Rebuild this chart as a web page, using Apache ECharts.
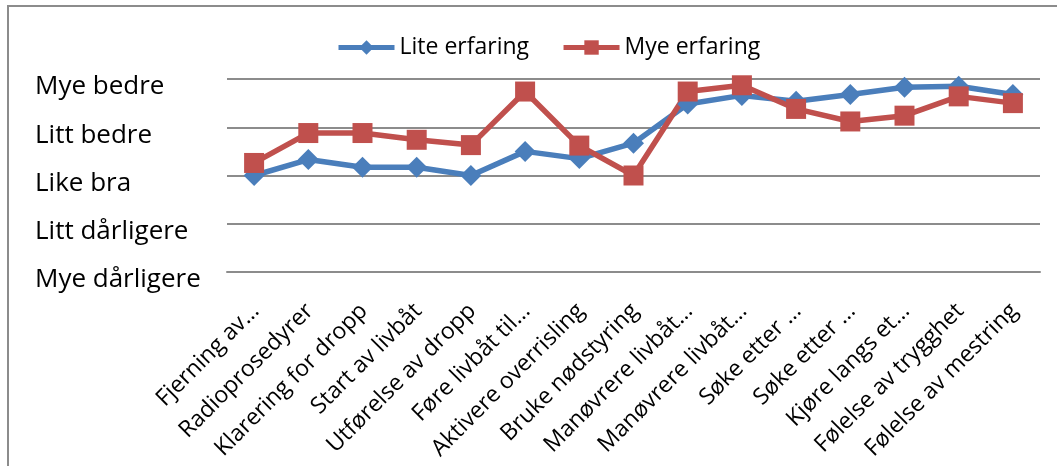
<!DOCTYPE html>
<html>
<head>
<meta charset="utf-8">
<style>
    html, body { margin: 0; padding: 0; background: #fff; }
    #chart { width: 1057px; height: 466px; }
</style>
<script src="https://cdn.jsdelivr.net/npm/echarts@6/dist/echarts.min.js"></script>
</head>
<body>
<div id="chart"></div>
<script>
var categories = ['Fjerning av…', 'Radioprosedyrer', 'Klarering for dropp', 'Start av livbåt',
    'Utførelse av dropp', 'Føre livbåt til…', 'Aktivere overrisling', 'Bruke nødstyring',
    'Manøvrere livbåt…', 'Manøvrere livbåt…', 'Søke etter …', 'Søke etter …',
    'Kjøre langs et…', 'Følelse av trygghet', 'Følelse av mestring'];
var yLabels = ['Mye dårligere', 'Litt dårligere', 'Like bra', 'Litt bedre', 'Mye bedre'];
var liteErfaring = [3.0, 3.33, 3.17, 3.17, 3.0, 3.5, 3.35, 3.67, 4.48, 4.66, 4.54, 4.68, 4.83, 4.85, 4.68];
var myeErfaring = [3.26, 3.88, 3.88, 3.74, 3.63, 4.74, 3.62, 3.0, 4.74, 4.87, 4.38, 4.12, 4.24, 4.64, 4.5];

var main = function () {
    var font = 'Open Sans';
    var grey = '#8c8c8c';

    var into = function () {
        var myChart = echarts.init(document.getElementById('chart'));
        myChart.setOption(buildOption());
    };

    var lineSeries = function (name, data, color, symbol, size) {
        return {
            name: name,
            type: 'line',
            data: data,
            symbol: symbol,
            symbolSize: size,
            itemStyle: { color: color },
            lineStyle: { color: color, width: 5.5 },
            animation: false
        };
    };

    var buildOption = function () {
        return {
            backgroundColor: '#fff',
            textStyle: { fontFamily: font },
            graphic: [{
                type: 'rect',
                shape: { x: 8, y: 6, width: 1200, height: 600 },
                style: { fill: 'none', stroke: grey, lineWidth: 2 },
                silent: true
            }],
            legend: {
                left: 331,
                top: 31,
                itemWidth: 56,
                itemHeight: 18,
                itemGap: 32,
                lineStyle: { width: 5 },
                textStyle: { fontSize: 23, color: '#000', fontFamily: font },
                data: ['Lite erfaring', 'Mye erfaring']
            },
            grid: {
                left: 227,
                right: 17,
                top: 79,
                bottom: 194,
                outerBoundsMode: 'none'
            },
            xAxis: {
                type: 'category',
                data: categories,
                boundaryGap: true,
                axisLine: { lineStyle: { color: grey, width: 2 } },
                axisTick: { length: 7, lineStyle: { color: grey, width: 2 } },
                axisLabel: {
                    interval: 0,
                    rotate: 45,
                    margin: 34,
                    verticalAlign: 'top',
                    lineHeight: 4,
                    fontSize: 23,
                    color: '#000',
                    fontFamily: font
                }
            },
            yAxis: {
                type: 'value',
                min: 1,
                max: 5,
                interval: 1,
                axisLine: { show: false },
                axisTick: { show: false },
                splitLine: { lineStyle: { color: grey, width: 2 } },
                axisLabel: {
                    align: 'left',
                    verticalAlign: 'top',
                    lineHeight: 16,
                    margin: 192,
                    fontSize: 26,
                    color: '#000',
                    fontFamily: font,
                    formatter: function (v) {
                        return yLabels[v - 1];
                    }
                }
            },
            series: [
                lineSeries('Lite erfaring', liteErfaring, '#4a7ebb', 'diamond', 21),
                lineSeries('Mye erfaring', myeErfaring, '#c0504d', 'rect', 20)
            ]
        };
    };

    return {
        into: into
    };
}();

main.into();
</script>
</body>
</html>
